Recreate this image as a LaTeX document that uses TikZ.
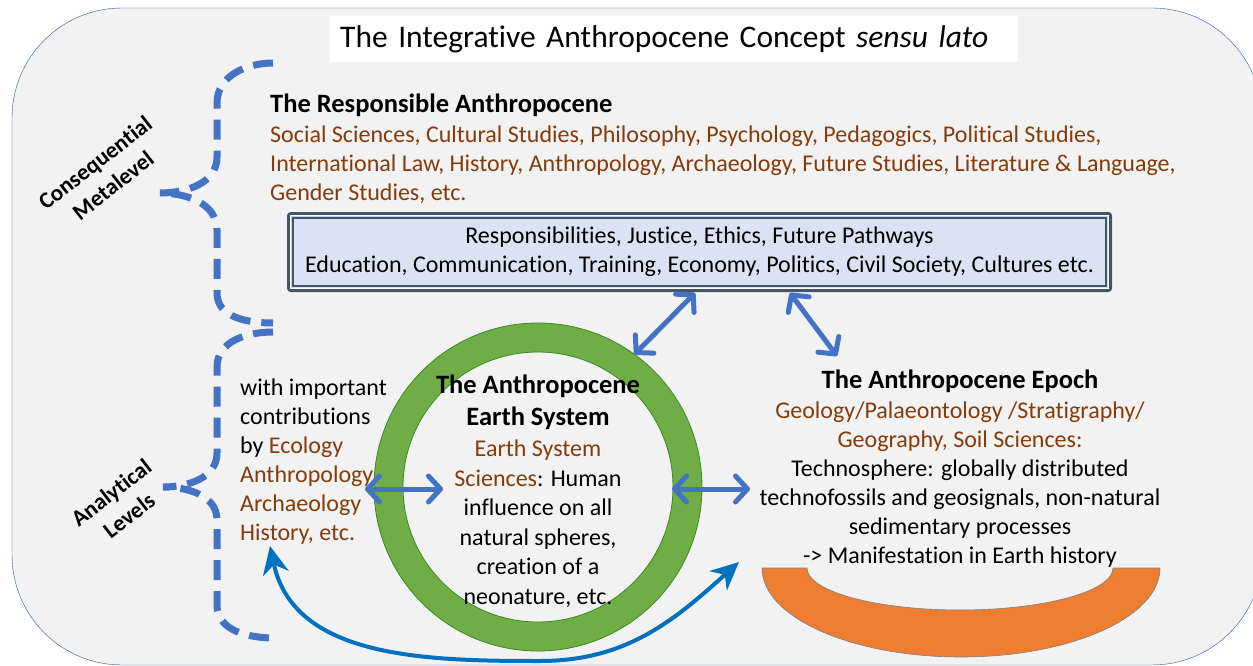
\documentclass[tikz,border=0pt]{standalone}
\usepackage{fontspec}
\setmainfont{Carlito}[Ligatures=NoCommon]
\usetikzlibrary{arrows.meta,positioning}

\definecolor{brownish}{HTML}{843C0C}
\definecolor{bracecol}{HTML}{4472C4}
\definecolor{sweepcol}{HTML}{0070C0}
\definecolor{ringgreen}{HTML}{70AD47}
\definecolor{ringedge}{HTML}{3A8A22}
\definecolor{epochorange}{HTML}{ED7D31}
\definecolor{boxfill}{HTML}{DAE3F3}
\definecolor{boxedge}{HTML}{44546A}
\definecolor{panelfill}{HTML}{F2F2F2}
\definecolor{paneledge}{HTML}{2F5597}

\tikzset{
  bodytext/.style={font=\fontsize{24}{29}\selectfont, inner sep=0pt},
  headtext/.style={font=\fontsize{26.5}{32}\selectfont\bfseries, inner sep=0pt},
  sidelabel/.style={font=\fontsize{23}{29}\selectfont\bfseries, align=center, rotate=38, inner sep=0pt},
  bracket/.style={bracecol, line width=7pt, dash pattern=on 20pt off 11pt},
  duplex/.style={bracecol, line width=5pt,
    {Straight Barb[length=12pt,width=26pt,round]}-{Straight Barb[length=12pt,width=26pt,round]}},
  sweep/.style={sweepcol, line width=4pt,
    {Stealth[length=28pt,width=26pt,inset=9pt]}-{Stealth[length=28pt,width=26pt,inset=9pt]}}
}

\begin{document}
\begin{tikzpicture}[x=1pt,y=-1pt]
\useasboundingbox (0,0) rectangle (1253,666);
\clip (0,0) rectangle (1253,666);

% background panel
\draw[paneledge, fill=panelfill, rounded corners=110pt] (12,8) rectangle (1262,665);

% title
\node[fill=white, anchor=west, text width=668pt, inner xsep=10pt, minimum height=46pt, align=left,
  font=\fontsize{31.5}{34}\selectfont] (title) at (330,39)
  {The Integrative Anthropocene Concept \textit{sensu lato}};

% responsible anthropocene
\node[headtext, anchor=north west] (resphead) at (270,93.5) {The Responsible Anthropocene};
\node[bodytext, anchor=north west, align=left, text=brownish] (respbody) at (270,126)
  {Social Sciences, Cultural Studies, Philosophy, Psychology, Pedagogics, Political Studies,\\
   International Law, History, Anthropology, Archaeology, Future Studies, Literature \& Language,\\
   Gender Studies, etc.};

% responsibilities box
\node[draw=boxedge, line width=4pt, fill=boxfill, rounded corners=2pt,
  minimum width=821pt, minimum height=76pt, align=center,
  font=\fontsize{24}{29}\selectfont] (box) at (699.5,252)
  {Responsibilities, Justice, Ethics, Future Pathways\\
   Education, Communication, Training, Economy, Politics, Civil Society, Cultures etc.};
\draw[white, line width=1pt] ([shift={(3.5,3.5)}]box.north west) rectangle ([shift={(-3.5,-3.5)}]box.south east);
\draw[boxedge, line width=1.3pt] ([shift={(6,6)}]box.north west) rectangle ([shift={(-6,-6)}]box.south east);

% braces
\draw[bracket] (273,63) to[out=180,in=90] (217,103) -- (217,157)
  to[out=-90,in=0] (160,193) to[out=0,in=90] (217,230) -- (217,293)
  to[out=-90,in=180] (273,323);
\draw[bracket] (273,332) to[out=180,in=90] (217,367) -- (217,453)
  to[out=-90,in=0] (163,487) to[out=0,in=90] (217,520) -- (217,605)
  to[out=-90,in=180] (275,638);
\node[sidelabel] (metalevel) at (104,174) {Consequential\\Metalevel};
\node[sidelabel] (levels) at (120,504) {Analytical\\Levels};

% earth system ring
\node[circle, draw=ringgreen, line width=29pt, minimum size=299pt, inner sep=0pt] (ring) at (538,487) {};
\draw[ringedge, line width=0.8pt] (ring.center) circle[radius=164pt] circle[radius=135pt];
\node[headtext, anchor=north, align=center] (ringhead) at (538,374.5) {The Anthropocene\\Earth System};
\node[bodytext, anchor=north, align=center, font=\fontsize{24}{29.5}\selectfont] (ringbody) at (538,440)
  {\textcolor{brownish}{Earth System}\\
   \textcolor{brownish}{Sciences}: Human\\
   influence on all\\
   natural spheres,\\
   creation of a\\
   neonature, etc.};

% contributions
\node[bodytext, anchor=north west, align=left] (contrib) at (240,379)
  {with important\\
   contributions\\
   by \textcolor{brownish}{Ecology}\\
   \textcolor{brownish}{Anthropology}\\
   \textcolor{brownish}{Archaeology}\\
   \textcolor{brownish}{History, etc.}};

% epoch
\node[headtext, anchor=north] (epochhead) at (960,370) {The Anthropocene Epoch};
\node[bodytext, anchor=north, align=center] (epochbody) at (960,402)
  {\textcolor{brownish}{Geology/Palaeontology /Stratigraphy/}\\
   \textcolor{brownish}{Geography, Soil Sciences:}\\
   Technosphere: globally distributed\\
   technofossils and geosignals, non-natural\\
   sedimentary processes\\
   -> Manifestation in Earth history};
\fill[epochorange, draw=gray, line width=0.6pt] (762,568)
  arc[start angle=180, end angle=360, x radius=199pt, y radius=89pt] -- (1113,568)
  arc[start angle=0, end angle=-180, x radius=153pt, y radius=42pt] -- cycle;

% connectors
\coordinate (boxleft) at (695,293);
\coordinate (boxright) at (790,293);
\coordinate (epochtop) at (837,356);
\coordinate (contribend) at (365,489);
\coordinate (ringinleft) at (443,489);
\coordinate (ringinright) at (672,489);
\coordinate (epochleft) at (750,489);
\coordinate (historyend) at (270,546);
\coordinate (sweeplow) at (540,661);
\coordinate (arcend) at (739,562);
\draw[duplex] (boxleft) -- (ring.54);
\draw[duplex] (boxright) -- (epochtop);
\draw[duplex] (contribend) -- (ringinleft);
\draw[duplex] (ringinright) -- (epochleft);
\draw[sweep] (historyend) to[out=-78,in=180] (sweeplow) to[out=0,in=-138] (arcend);

\end{tikzpicture}
\end{document}
